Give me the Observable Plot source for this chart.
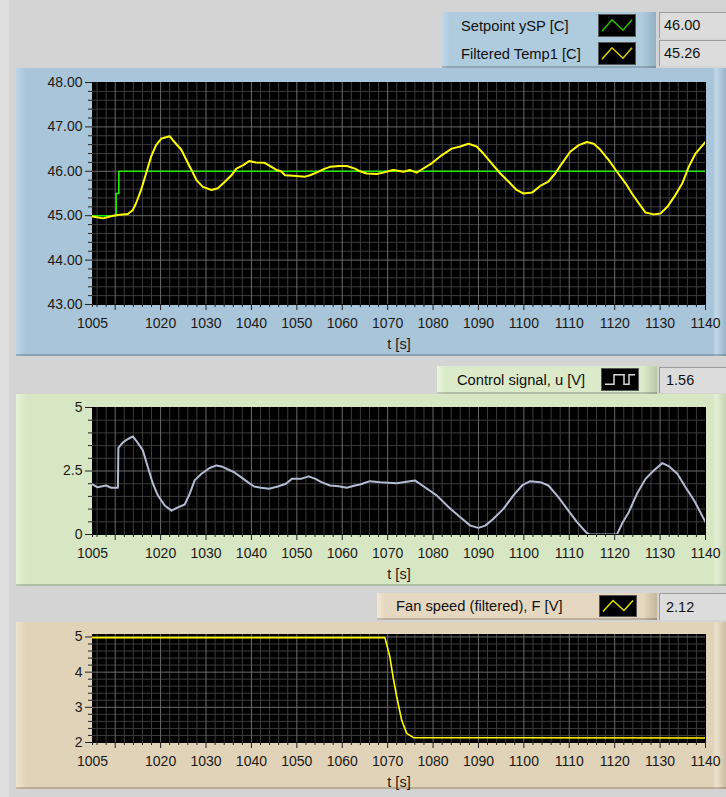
<!DOCTYPE html>
<html>
<head>
<meta charset="utf-8">
<script src="https://cdn.jsdelivr.net/npm/d3@7"></script>
<script src="https://cdn.jsdelivr.net/npm/@observablehq/plot@0.6"></script>
<style>
  html, body { margin: 0; padding: 0; background: #d4d4d4; }
  body { font-family: "Liberation Sans", Arial, sans-serif; font-size: 14px; color: #111; }
  #root { position: relative; width: 726px; height: 797px; overflow: hidden; background: #d4d4d4; }
  .strip { position: absolute; left: 0; top: 0; width: 9px; height: 797px; background: #dedede; }
  .panel { position: absolute; left: 16px; width: 710px; box-sizing: border-box;
           border-bottom: 2px solid rgba(0,0,0,0.18); }
  .p1 { top: 68px; height: 288px; background: linear-gradient(to right, #bcd6e6 0px, #a9c5d9 10px, #a9c5d9 697px, #c2d9e7 700px, #98b4c8 710px); }
  .p2 { top: 394px; height: 192px; background: linear-gradient(to right, #e6f2d8 0px, #d7e7c3 10px, #d7e7c3 697px, #e4efd6 700px, #c4d4b0 710px); }
  .p3 { top: 622px; height: 167px; background: linear-gradient(to right, #efe4cc 0px, #e0d3b8 10px, #e0d3b8 697px, #ece2cc 700px, #cbbda3 710px); }
  .leg { position: absolute; box-sizing: border-box; border-bottom: 2px solid rgba(0,0,0,0.18); }
  .leg1 { left: 442px; top: 12px; width: 214px; height: 56px; background: linear-gradient(to right, #c0d8e8 0px, #afcbde 8px, #afcbde 200px, #93afc3 214px); }
  .leg2 { left: 437px; top: 366px; width: 220px; height: 28px; background: linear-gradient(to right, #eaf4dc 0px, #dbeac8 8px, #dbeac8 206px, #b9c9a6 220px); }
  .leg3 { left: 377px; top: 593px; width: 280px; height: 27px; background: linear-gradient(to right, #f2e8d6 0px, #e6d8c0 8px, #e6d8c0 266px, #c4b59c 280px); }
  .lt { position: absolute; white-space: nowrap; line-height: 16px; font-size: 14.7px; }
  .sw { position: absolute; background: #000; border: 1px solid #555; box-sizing: border-box; }
  .val { position: absolute; left: 659px; width: 70px; box-sizing: border-box; background: #dcdcdc;
         border-top: 1px solid #9c9c9c; border-left: 1px solid #9c9c9c; padding-left: 4px; font-size: 14.5px; }
  .plot { position: absolute; left: 0; }
</style>
</head>
<body>
<div id="root">
  <div class="strip"></div>
  <div class="panel p1"></div>
  <div class="panel p2"></div>
  <div class="panel p3"></div>
</div>
<script>
// ---------------- data ----------------
const tRange = [1005, 1140];
const xLabelTicks = [1005, 1020, 1030, 1040, 1050, 1060, 1070, 1080, 1090, 1100, 1110, 1120, 1130, 1140];
const xMajorTicks = [1010, 1020, 1030, 1040, 1050, 1060, 1070, 1080, 1090, 1100, 1110, 1120, 1130, 1140];

// Setpoint ySP [C] (step)
const tSetpoint = [1005, 1010.2, 1010.8, 1140];
const vSetpoint = [45.0, 45.5, 46.0, 46.0];

// Filtered Temp1 [C]
const tTemp = [1005, 1007.3, 1009.5, 1011, 1012.8, 1013.9, 1014.6, 1015.7, 1016.8, 1017.9, 1019.0, 1020.2, 1022.0, 1022.7, 1024.6, 1025.7, 1026.8, 1027.9, 1029.3, 1031.2, 1032.6, 1034.1, 1035.6, 1036.7, 1038.2, 1039.5, 1041, 1042.9, 1044.4, 1045.5, 1046.5, 1047.4, 1049.2, 1051.8, 1052.9, 1054.3, 1056.2, 1057.3, 1059.5, 1061, 1062.8, 1063.9, 1065.4, 1067.6, 1069, 1071.2, 1073.5, 1074.9, 1076.4, 1077.5, 1079.7, 1081.9, 1084.1, 1086, 1087.8, 1089.6, 1091.1, 1092.9, 1094.8, 1096.6, 1098.4, 1099.9, 1101.8, 1103.6, 1105.4, 1106.9, 1108.4, 1110.2, 1112.1, 1113.9, 1115.4, 1116.8, 1118.7, 1120.5, 1122.4, 1123.8, 1125.3, 1126.8, 1128.6, 1130.1, 1131.6, 1133.4, 1134.9, 1136.3, 1137.8, 1140];
const vTemp = [44.98, 44.94, 45.0, 45.02, 45.04, 45.13, 45.28, 45.58, 45.95, 46.33, 46.59, 46.74, 46.79, 46.70, 46.48, 46.25, 46.03, 45.80, 45.65, 45.58, 45.62, 45.76, 45.91, 46.06, 46.14, 46.23, 46.2, 46.19, 46.1, 46.03, 46.0, 45.91, 45.9, 45.88, 45.91, 45.97, 46.06, 46.1, 46.12, 46.12, 46.06, 46.0, 45.95, 45.94, 45.97, 46.03, 45.99, 46.03, 45.97, 46.04, 46.18, 46.36, 46.51, 46.56, 46.62, 46.56, 46.40, 46.18, 45.95, 45.77, 45.58, 45.50, 45.52, 45.67, 45.77, 45.95, 46.18, 46.44, 46.59, 46.66, 46.62, 46.49, 46.25, 45.99, 45.73, 45.50, 45.28, 45.07, 45.03, 45.05, 45.20, 45.47, 45.73, 46.10, 46.40, 46.66];

// Control signal, u [V]
const tControl = [1005, 1006.1, 1008, 1009.1, 1010.6, 1010.7, 1011.7, 1012.8, 1013.9, 1014.6, 1016.1, 1017.2, 1018.3, 1019.4, 1020.9, 1022.4, 1023.8, 1025.3, 1026.4, 1027.5, 1029, 1030.8, 1032.3, 1033.4, 1036.2, 1037.7, 1039.2, 1040.6, 1042.1, 1043.9, 1045.8, 1047.6, 1048.9, 1050.9, 1052.6, 1054.1, 1055.4, 1057.3, 1059.2, 1061.0, 1062.8, 1063.9, 1066.1, 1068.3, 1072, 1076.0, 1078.2, 1080.8, 1083.4, 1086, 1088.2, 1090, 1091.5, 1093.3, 1095.5, 1097.7, 1099.6, 1101.4, 1103.6, 1105.4, 1107.6, 1109.8, 1111.7, 1113.9, 1114.5, 1120.5, 1121.6, 1123.1, 1124.9, 1126.8, 1128.6, 1130.5, 1132, 1133.8, 1135.6, 1137.5, 1140];
const vControl = [1.97, 1.86, 1.93, 1.84, 1.84, 3.41, 3.63, 3.76, 3.86, 3.70, 3.31, 2.65, 2.0, 1.54, 1.14, 0.94, 1.07, 1.18, 1.6, 2.13, 2.39, 2.62, 2.72, 2.68, 2.45, 2.26, 2.06, 1.89, 1.84, 1.80, 1.89, 2.0, 2.19, 2.19, 2.29, 2.19, 2.06, 1.93, 1.9, 1.84, 1.93, 1.97, 2.10, 2.06, 2.02, 2.13, 1.86, 1.54, 1.08, 0.68, 0.35, 0.26, 0.35, 0.62, 1.01, 1.54, 1.93, 2.10, 2.06, 1.93, 1.47, 0.94, 0.49, 0.05, 0, 0, 0.42, 0.88, 1.6, 2.19, 2.52, 2.81, 2.68, 2.39, 1.86, 1.34, 0.49];

// Fan speed (filtered), F [V]
const tFan = [1005, 1069.4, 1070.5, 1071.2, 1072, 1073.1, 1074.2, 1075.7, 1140];
const vFan = [4.98, 4.98, 4.43, 3.86, 3.30, 2.63, 2.26, 2.14, 2.13];

// Legends / indicators
const legendNames = ["Setpoint ySP [C]", "Filtered Temp1 [C]", "Control signal, u [V]", "Fan speed (filtered), F [V]"];
const indicatorValues = ["46.00", "45.26", "1.56", "2.12"];

// Y-axis tick labels
const yTicks1 = [43, 44, 45, 46, 47, 48];
const yTicks2 = [0, 2.5, 5];
const yTicks3 = [2, 3, 4, 5];

// ---------------- drawing ----------------
const root = document.getElementById("root");
const FONT = '"Liberation Sans", Arial, sans-serif';
const step = (a, b, s) => d3.range(a, b + s / 2, s).map(v => +v.toFixed(4));

function chart({top, frameH, yDomain, yTicks, yFmt, yMinorStep, yGridStep, lines}) {
  const mt = 10, mb = 56;
  const yMinor = step(yDomain[0], yTicks[yTicks.length - 1], yMinorStep).filter(v => !yTicks.includes(v));
  const yGridMinor = step(yDomain[0], yDomain[1], yGridStep).filter(v => !yTicks.includes(v));
  const xGridMinor = step(1006, 1140, 2).filter(v => v % 10 !== 0);
  const xMinor = [1005, ...step(1006, 1140, 2).filter(v => v % 10 !== 0)];
  const p = Plot.plot({
    width: 726, height: mt + frameH + mb,
    marginLeft: 92, marginRight: 21, marginTop: mt, marginBottom: mb,
    style: {background: "transparent", fontFamily: FONT, fontSize: "14px", color: "#1a1a1a", overflow: "visible"},
    x: {domain: tRange, axis: null},
    y: {domain: yDomain, axis: null},
    marks: [
      Plot.frame({fill: "#000", stroke: "#000"}),
      Plot.gridX(xGridMinor, {stroke: "#3c3c3c", strokeOpacity: 1}),
      Plot.gridY(yGridMinor, {stroke: "#3c3c3c", strokeOpacity: 1}),
      Plot.gridX(xMajorTicks.slice(0, -1), {stroke: "#6a6a6a", strokeOpacity: 1}),
      Plot.gridY(yTicks.filter(v => v > yDomain[0] && v < yDomain[1]), {stroke: "#6a6a6a", strokeOpacity: 1}),
      ...lines.map(l => Plot.line(l.v, {x: l.t, y: l.v, stroke: l.color, strokeWidth: l.w, curve: l.curve || "linear", clip: true})),
      Plot.axisX(xMinor, {tickSize: 3, tickFormat: () => "", label: null, stroke: "#222"}),
      Plot.axisX(xMajorTicks, {tickSize: 6, tickFormat: () => "", label: null, stroke: "#222"}),
      Plot.axisX(xLabelTicks, {tickSize: 0, tickPadding: 14, tickFormat: d => String(d), label: null, fill: "#1a1a1a"}),
      Plot.axisY(yMinor, {tickSize: 4, tickFormat: () => "", label: null, stroke: "#222"}),
      Plot.axisY(yTicks, {tickSize: 7, tickPadding: 3, tickFormat: yFmt, label: null, stroke: "#222", fill: "#1a1a1a"}),
      Plot.text(["t [s]"], {frameAnchor: "bottom", dy: 44, fill: "#1a1a1a", fontSize: 14.5})
    ]
  });
  p.classList.add("plot");
  p.style.top = (top - mt) + "px";
  root.appendChild(p);
}

chart({
  top: 82, frameH: 222, yDomain: [43, 48], yTicks: yTicks1, yFmt: d3.format(".2f"),
  yMinorStep: 0.2, yGridStep: 0.2,
  lines: [
    {t: tSetpoint, v: vSetpoint, color: "#22ee00", w: 1.6, curve: "step-after"},
    {t: tTemp, v: vTemp, color: "#ffff00", w: 2}
  ]
});
chart({
  top: 407, frameH: 127, yDomain: [0, 5], yTicks: yTicks2, yFmt: d => String(d),
  yMinorStep: 0.5, yGridStep: 0.5,
  lines: [{t: tControl, v: vControl, color: "#b4bcd4", w: 2}]
});
chart({
  top: 634, frameH: 108, yDomain: [2, 5.07], yTicks: yTicks3, yFmt: d => String(d),
  yMinorStep: 0.2, yGridStep: 0.2,
  lines: [{t: tFan, v: vFan, color: "#ffff00", w: 1.6}]
});

// ---------------- legends & indicators ----------------
function el(cls, css, html) {
  const d = document.createElement("div");
  d.className = cls;
  Object.assign(d.style, css);
  if (html != null) d.innerHTML = html;
  root.appendChild(d);
  return d;
}
const zig = (c) => `<svg width="100%" height="100%" viewBox="0 0 36 22" preserveAspectRatio="none"><polyline points="3,17 13,5 24,16 33,5" fill="none" stroke="${c}" stroke-width="1.5"/></svg>`;
const sq = `<svg width="100%" height="100%" viewBox="0 0 36 22" preserveAspectRatio="none"><polyline points="3,16 12,16 12,6 22,6 22,16 27,16 27,6 33,6" fill="none" stroke="#d8d8d8" stroke-width="1.5"/></svg>`;

el("leg leg1", {});
el("lt", {left: "461px", top: "18px"}, legendNames[0]);
el("lt", {left: "461px", top: "46px"}, legendNames[1]);
el("sw", {left: "598px", top: "14px", width: "38px", height: "23px"}, zig("#2cc000"));
el("sw", {left: "598px", top: "42px", width: "38px", height: "23px"}, zig("#d8d000"));
el("val", {top: "12px", height: "26px", lineHeight: "25px"}, indicatorValues[0]);
el("val", {top: "40px", height: "26px", lineHeight: "25px"}, indicatorValues[1]);

el("leg leg2", {});
el("lt", {left: "457px", top: "372px"}, legendNames[2]);
el("sw", {left: "601px", top: "368px", width: "38px", height: "23px"}, sq);
el("val", {top: "367px", height: "26px", lineHeight: "25px", paddingLeft: "6px"}, indicatorValues[2]);

el("leg leg3", {});
el("lt", {left: "396px", top: "598px"}, legendNames[3]);
el("sw", {left: "599px", top: "595px", width: "38px", height: "22px"}, zig("#e0e000"));
el("val", {top: "593px", height: "27px", lineHeight: "26px", paddingLeft: "6px"}, indicatorValues[3]);
</script>
</body>
</html>
